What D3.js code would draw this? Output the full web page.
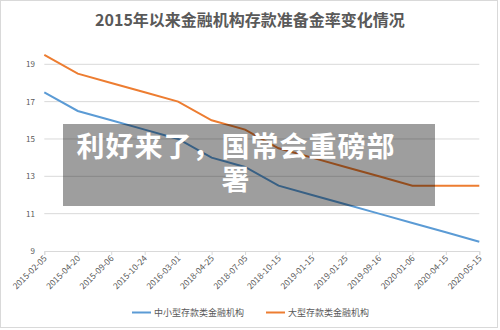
<!DOCTYPE html>
<html><head><meta charset="utf-8">
<script src="https://cdn.jsdelivr.net/npm/d3@7"></script>
<style>body{margin:0;background:#fff}svg{display:block}</style>
</head><body>
<svg id="c" width="500" height="330"></svg>
<script>
const categories = ["2015-02-05","2015-04-20","2015-09-06","2015-10-24","2016-03-01","2018-04-25","2018-07-05","2018-10-15","2019-01-15","2019-01-25","2019-09-16","2020-01-06","2020-04-15","2020-05-15"];
const smallMedium = [17.5,16.5,16.0,15.5,15.0,14.0,13.5,12.5,12.0,11.5,11.0,10.5,10.0,9.5];
const large = [19.5,18.5,18.0,17.5,17.0,16.0,15.5,14.5,14.0,13.5,13.0,12.5,12.5,12.5];
const yTicks = [9,11,13,15,17,19];
const seriesNames = ["中小型存款类金融机构","大型存款类金融机构"];
const title = "2015年以来金融机构存款准备金率变化情况";
const overlayLines = ["利好来了，国常会重磅部","署"];

const svg = d3.select("#c");
const font = "'Noto Sans CJK SC','Noto Sans',sans-serif";
svg.append("rect").attr("x",0.5).attr("y",0.5).attr("width",497).attr("height",327)
  .attr("fill","#fff").attr("stroke","#d9d9d9");

const x = d3.scalePoint().domain(categories).range([44.3,479.3]);
const y = d3.scaleLinear().domain([9,19]).range([251,64.3]);

svg.append("text").attr("x",250).attr("y",26).attr("text-anchor","middle")
  .attr("font-family",font).attr("font-weight","bold").attr("font-size",16).attr("fill","#595959").text(title);

// grid
svg.append("g").selectAll("line").data(yTicks.filter(d=>d!==9)).join("line")
  .attr("x1",44.3).attr("x2",479.3).attr("y1",d=>y(d)).attr("y2",d=>y(d))
  .attr("stroke","#d9d9d9").attr("stroke-width",1);

// y labels
svg.append("g").selectAll("text").data(yTicks).join("text")
  .attr("x",35).attr("y",d=>y(d)+3).attr("text-anchor","end")
  .attr("font-family",font).attr("font-size",8).attr("fill","#595959").text(d=>d);

// x axis
const xa = svg.append("g").attr("transform","translate(0,251)")
  .call(d3.axisBottom(x).tickSize(4).tickFormat(""));
xa.select(".domain").attr("stroke","#d9d9d9");
xa.selectAll(".tick line").attr("stroke","#d9d9d9");
svg.append("g").selectAll("text").data(categories).join("text")
  .attr("transform",d=>`translate(${x(d)+3},${259}) rotate(-45)`)
  .attr("text-anchor","end").attr("font-family",font).attr("font-size",8.5).attr("fill","#595959").text(d=>d);

const line = d3.line().x((d,i)=>x(categories[i])).y(d=>y(d));
svg.append("path").datum(smallMedium).attr("d",line).attr("fill","none").attr("stroke","#5b9bd5").attr("stroke-width",2);
svg.append("path").datum(large).attr("d",line).attr("fill","none").attr("stroke","#ed7d31").attr("stroke-width",2);

// legend
const legend = [{name:seriesNames[0],c:"#5b9bd5",x:132},{name:seriesNames[1],c:"#ed7d31",x:266}];
const lg = svg.append("g").selectAll("g").data(legend).join("g");
lg.append("line").attr("x1",d=>d.x).attr("x2",d=>d.x+19).attr("y1",312.5).attr("y2",312.5).attr("stroke",d=>d.c).attr("stroke-width",2);
lg.append("text").attr("x",d=>d.x+22).attr("y",316).attr("font-family",font).attr("font-size",9).attr("fill","#595959").text(d=>d.name);

// overlay
svg.append("rect").attr("x",63).attr("y",124).attr("width",372).attr("height",82).attr("fill","rgba(0,0,0,0.38)");
const ot = svg.append("text").attr("text-anchor","middle")
  .attr("font-family",font).attr("font-weight","bold").attr("font-size",28).attr("letter-spacing",1)
  .attr("fill","#fff");
ot.selectAll("tspan").data(overlayLines).join("tspan")
  .attr("x",236).attr("y",(d,i)=>157+i*33).text(d=>d);
</script>
</body></html>
